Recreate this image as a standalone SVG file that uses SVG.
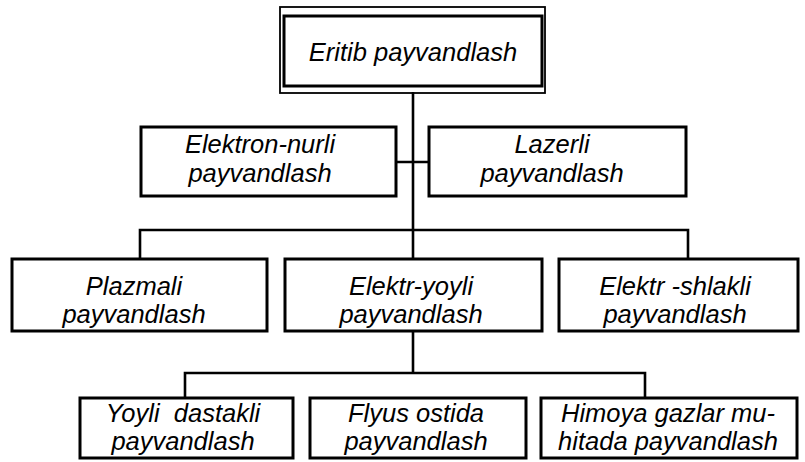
<svg xmlns="http://www.w3.org/2000/svg" width="805" height="462" viewBox="0 0 805 462">
<style>
.box{fill:#fff;stroke:#000;stroke-width:3}
.outer{fill:none;stroke:#000;stroke-width:1.8}
.t{font-family:"Liberation Sans",Arial,sans-serif;font-style:italic;font-size:25.5px;fill:#000;text-anchor:middle}
.c{stroke:#000;stroke-width:2.6;fill:none}
</style>
<rect width="805" height="462" fill="#fff"/>
<g id="connectors">
<line class="c" x1="413" y1="92" x2="413" y2="259"/>
<line class="c" x1="396" y1="162" x2="429" y2="162"/>
<polyline class="c" points="140,259 140,230 688,230 688,259"/>
<line class="c" x1="413" y1="331" x2="413" y2="373"/>
<polyline class="c" points="185,398 185,373 645,373 645,398"/>
</g>
<g id="n0">
<rect class="outer" x="280" y="7" width="265" height="86"/>
<rect class="box" x="284" y="16" width="258" height="70"/>
<text class="t" x="413" y="61">Eritib payvandlash</text>
</g>
<g id="n1">
<rect class="box" x="141" y="127" width="255" height="69"/>
<text class="t" x="260" y="153">Elektron-nurli</text>
<text class="t" x="260" y="182">payvandlash</text>
</g>
<g id="n2">
<rect class="box" x="429" y="127" width="257" height="69"/>
<text class="t" x="552" y="153">Lazerli</text>
<text class="t" x="552" y="182">payvandlash</text>
</g>
<g id="n3">
<rect class="box" x="12" y="259" width="255" height="72"/>
<text class="t" x="134" y="295">Plazmali</text>
<text class="t" x="134" y="323">payvandlash</text>
</g>
<g id="n4">
<rect class="box" x="285" y="259" width="257" height="72"/>
<text class="t" x="411" y="295">Elektr-yoyli</text>
<text class="t" x="411" y="323">payvandlash</text>
</g>
<g id="n5">
<rect class="box" x="559" y="259" width="239" height="72"/>
<text class="t" x="675" y="295">Elektr -shlakli</text>
<text class="t" x="675" y="323">payvandlash</text>
</g>
<g id="n6">
<rect class="box" x="80" y="398" width="213" height="60"/>
<text class="t" x="183" y="422">Yoyli&#160; dastakli</text>
<text class="t" x="183" y="450">payvandlash</text>
</g>
<g id="n7">
<rect class="box" x="310" y="398" width="216" height="60"/>
<text class="t" x="416" y="422">Flyus ostida</text>
<text class="t" x="416" y="450">payvandlash</text>
</g>
<g id="n8">
<rect class="box" x="541" y="398" width="256" height="60"/>
<text class="t" x="668" y="422">Himoya gazlar mu-</text>
<text class="t" x="668" y="450">hitada payvandlash</text>
</g>
</svg>
